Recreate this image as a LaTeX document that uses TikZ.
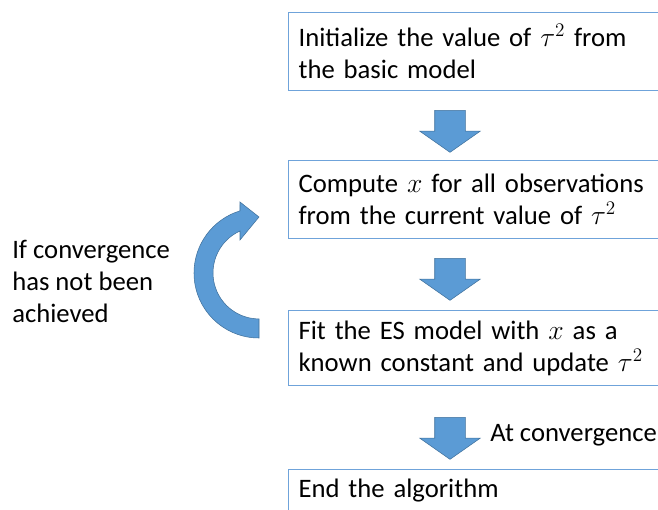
\documentclass[tikz,border=0pt]{standalone}
\usepackage{fontspec}
\setmainfont{Carlito}
\usepackage{tikz}
\usetikzlibrary{positioning}
\usetikzlibrary{shapes.arrows}
\definecolor{boxline}{HTML}{6FA3DA}
\definecolor{arrowfill}{HTML}{5B9BD5}
\definecolor{arrowline}{HTML}{41719C}
\tikzstyle{box}=[draw=boxline, line width=0.9pt, rectangle, anchor=north west, text width=292.5pt, inner xsep=7.5pt, align=left, minimum height=58.5pt, font=\fontsize{20}{24}\selectfont]
\tikzstyle{blockarrow}=[single arrow, fill=arrowfill, draw=arrowline, line width=0.4pt, rotate=-90, minimum height=31.5pt, minimum width=45pt, single arrow head extend=11.25pt, single arrow tip angle=110, single arrow head indent=0pt, inner xsep=0pt, inner ysep=11.25pt]
\tikzstyle{note}=[anchor=west, align=left, inner sep=0pt, font=\fontsize{20}{24}\selectfont]

\begin{document}
\begin{tikzpicture}[x=0.75pt, y=-0.75pt]
            \useasboundingbox (0,0) rectangle (658,510);
            \clip (0,0) rectangle (658,510);

            \node[box] (init) at (288,12) {Initialize the value of $\tau^2$ from\\the basic model};
            \node[box] (comp) at (288,160) {Compute $x$ for all observations\\from the current value of $\tau^2$};
            \node[box, minimum height=56.25pt] (fit) at (288,310) {Fit the ES model with $x$ as a\\known constant and update $\tau^2$};
            \node[box] (fin) at (288,469) {End the algorithm\\\strut};

            \node[blockarrow] (a1) at (450,126) {};
            \node[blockarrow] (a2) at (450,274) {};
            \node[blockarrow] (a3) at (450,433) {};

            \node[note] (conv) at (490,435) {At convergence};
            \node[note] (loop) at (12,281) {If convergence\\has not been\\achieved};

            % curved arrow back up
            \filldraw[fill=arrowfill, draw=arrowline, line width=0.4pt]
                (259,338) arc[start angle=90, end angle=253, radius=65]
                -- (240,202) -- (259,217) -- (240,240) -- (240,231)
                arc[start angle=245.6, end angle=90, radius=46] -- cycle;
        \end{tikzpicture}
\end{document}
